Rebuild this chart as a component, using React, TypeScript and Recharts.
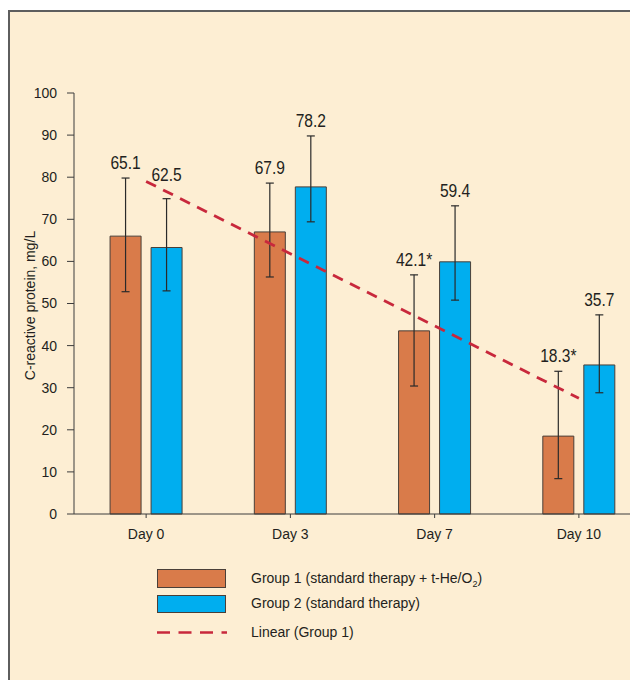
import React from "react";
import {
  ComposedChart,
  Bar,
  Line,
  XAxis,
  YAxis,
  ErrorBar,
  LabelList,
  Legend,
} from "recharts";

const days = ["Day 0", "Day 3", "Day 7", "Day 10"];

// bar heights as drawn
const group1 = [66.0, 67.0, 43.5, 18.5];
const group2 = [63.3, 77.7, 59.9, 35.4];

// whisker ends
const group1Low = [52.8, 56.3, 30.4, 8.4];
const group1High = [79.8, 78.6, 56.8, 33.9];
const group2Low = [53.0, 69.4, 50.8, 28.8];
const group2High = [74.9, 89.8, 73.2, 47.3];

// printed values
const group1Labels = ["65.1", "67.9", "42.1*", "18.3*"];
const group2Labels = ["62.5", "78.2", "59.4", "35.7"];

// linear trend of group 1
const trend = [79.0, 61.8, 44.7, 27.5];

const yTicks = [0, 10, 20, 30, 40, 50, 60, 70, 80, 90, 100];

const ORANGE = "#d97b4a";
const BLUE = "#00aeef";
const EDGE = "#4a3f38";
const RED = "#c8283c";
const INK = "#231f20";
const SANS = "'Liberation Sans', Arial, sans-serif";

const valueLabel =
  (labels: string[], values: number[], highs: number[], lift: (i: number) => number) =>
  (props: any) => {
    const vb = props.viewBox ?? props;
    const { x, y, width, height } = vb;
    const i = props.index;
    const base = y + height;
    const perUnit = height / values[i];
    const top = base - highs[i] * perUnit;
    const cx = x + width / 2;
    const ty = top - lift(i);
    // condensed face: squeeze Liberation Sans horizontally
    return (
      <text
        transform={`translate(${cx} ${ty}) scale(0.82 1)`}
        x={0}
        y={0}
        textAnchor="middle"
        fontSize={19}
        fontFamily={SANS}
        fill={INK}
      >
        {labels[i]}
      </text>
    );
  };

const data = days.map((day, i) => ({
  day,
  g1: group1[i],
  g2: group2[i],
  g1Err: [group1[i] - group1Low[i], group1High[i] - group1[i]],
  g2Err: [group2[i] - group2Low[i], group2High[i] - group2[i]],
  trend: trend[i],
}));

function LegendBox() {
  return (
    <svg width={400} height={80} style={{ display: "block" }}>
      <rect x={0.5} y={2.5} width={68} height={18} fill={ORANGE} stroke={EDGE} />
      <text x={94} y={16} fontSize={14} fontFamily={SANS} fill={INK}>
        Group 1 (standard therapy + t-He/O
        <tspan fontSize={9} dy={4}>2</tspan>
        <tspan dy={-4}>)</tspan>
      </text>
      <rect x={0.5} y={28.5} width={68} height={17} fill={BLUE} stroke={EDGE} />
      <text x={94} y={41} fontSize={14} fontFamily={SANS} fill={INK}>
        Group 2 (standard therapy)
      </text>
      <line
        x1={0}
        x2={70}
        y1={65.5}
        y2={65.5}
        stroke={RED}
        strokeWidth={2.6}
        strokeDasharray="13 8.5"
      />
      <text x={94} y={70} fontSize={14} fontFamily={SANS} fill={INK}>
        Linear (Group 1)
      </text>
    </svg>
  );
}

export default function App() {
  return (
    <div
      style={{
        marginTop: 2,
        marginBottom: -10,
        width: 630,
        height: 680,
        overflow: "hidden",
      }}
    >
      <div
        style={{
          width: 700,
          height: 700,
          borderTop: "2px solid #5e5e5e",
          borderLeft: "2px solid #5e5e5e",
          background: "#fdeed3",
        }}
      >
        <ComposedChart
          width={641}
          height={680}
          data={data}
          margin={{ top: 81, right: 0, bottom: 148, left: 14 }}
          barCategoryGap="25%"
          barGap={10}
        >
          <XAxis
            dataKey="day"
            axisLine={{ stroke: "#3c3c3c" }}
            tickLine={{ stroke: "#3c3c3c" }}
            tickSize={4}
            tickMargin={11}
            height={30}
            tick={{ fontSize: 14, fontFamily: SANS, fill: INK }}
          />
          <YAxis
            domain={[0, 100]}
            ticks={yTicks}
            width={50}
            axisLine={{ stroke: "#3c3c3c" }}
            tickLine={{ stroke: "#3c3c3c" }}
            tickSize={7}
            tickMargin={10}
            tick={{ fontSize: 14, fontFamily: SANS, fill: INK }}
            label={{
              content: (p: any) => {
                const vb = p.viewBox;
                const cx = vb.x + 6;
                const cy = vb.y + vb.height / 2 + 2;
                return (
                  <text
                    x={cx}
                    y={cy}
                    transform={`rotate(-90 ${cx} ${cy})`}
                    textAnchor="middle"
                    dominantBaseline="central"
                    fontSize={14}
                    fontFamily={SANS}
                    fill={INK}
                  >
                    C-reactive protein, mg/L
                  </text>
                );
              },
            }}
          />
          <Legend
            layout="horizontal"
            verticalAlign="middle"
            align="center"
            wrapperStyle={{ left: 147, top: 555, width: 400, height: 80 }}
            content={() => <LegendBox />}
          />
          <Bar
            dataKey="g1"
            fill={ORANGE}
            stroke={EDGE}
            strokeWidth={1}
            isAnimationActive={false}
          >
            <ErrorBar
              dataKey="g1Err"
              width={4}
              stroke="#2a2a2a"
              strokeWidth={1.2}
              direction="y"
              isAnimationActive={false}
            />
            <LabelList
              dataKey="g1"
              content={valueLabel(group1Labels, group1, group1High, () => 9)}
            />
          </Bar>
          <Bar
            dataKey="g2"
            fill={BLUE}
            stroke={EDGE}
            strokeWidth={1}
            isAnimationActive={false}
          >
            <ErrorBar
              dataKey="g2Err"
              width={4}
              stroke="#2a2a2a"
              strokeWidth={1.2}
              direction="y"
              isAnimationActive={false}
            />
            <LabelList
              dataKey="g2"
              // Day 0 label sits higher so it clears the trend line
              content={valueLabel(group2Labels, group2, group2High, (i) => (i === 0 ? 18 : 9))}
            />
          </Bar>
          <Line
            dataKey="trend"
            stroke={RED}
            strokeWidth={2.8}
            strokeDasharray="11 8"
            dot={false}
            activeDot={false}
            legendType="none"
            isAnimationActive={false}
          />
        </ComposedChart>
      </div>
    </div>
  );
}
